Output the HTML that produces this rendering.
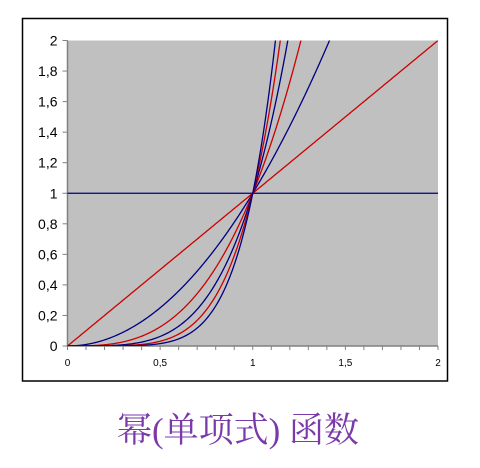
<!DOCTYPE html>
<html><head><meta charset="utf-8"><style>
html,body{margin:0;padding:0;background:#fff;width:480px;height:468px;overflow:hidden}
svg{display:block}
</style></head><body>
<svg id="chart" width="480" height="468">
<rect x="22.5" y="18.5" width="425" height="362.5" fill="#fff" stroke="#000" stroke-width="1.5"/>
<text x="238" y="442" text-anchor="middle" font-family="'Liberation Serif','Noto Serif CJK SC',serif" font-size="35" fill="#7a3aaa">幂(单项式) 函数</text>
</svg>
<script>
const exponents=[0,1,2,3,4,5,6];
const seriesColors=["#000080","#cc0000","#000080","#cc0000","#000080","#cc0000","#000080"];
const xTicks=[0,0.5,1,1.5,2];
const xTickLabels=["0","0,5","1","1,5","2"];
const yTicks=[0,0.2,0.4,0.6,0.8,1,1.2,1.4,1.6,1.8,2];
const yTickLabels=["0","0,2","0,4","0,6","0,8","1","1,2","1,4","1,6","1,8","2"];
const X0=67.5,X1=438,Y0=346,Y1=40.5;
const sx=v=>X0+(v-0)/2*(X1-X0);
const sy=v=>Y0-(v-0)/2*(Y0-Y1);
const svg=document.getElementById('chart');
const NS='http://www.w3.org/2000/svg';
function mk(t,a){const e=document.createElementNS(NS,t);for(const k in a)e.setAttribute(k,a[k]);svg.appendChild(e);return e;}
const clip=mk('clipPath',{id:'pc'});
const cr=document.createElementNS(NS,'rect');cr.setAttribute('x',X0);cr.setAttribute('y',Y1);cr.setAttribute('width',X1-X0);cr.setAttribute('height',Y0-Y1);clip.appendChild(cr);
const plot=mk('rect',{x:X0,y:Y1,width:X1-X0,height:Y0-Y1,fill:'#c0c0c0'});


const ax=mk('path',{d:`M${X0},${Y1}V${Y0}H${X1}`,stroke:'#808080','stroke-width':1.5,fill:'none'});


for(let i=0;i<=20;i++){const x=sx(i*0.1);const t=mk('line',{x1:x,x2:x,y1:Y0,y2:Y0+4,stroke:'#808080'});

}
xTicks.forEach((v,i)=>{const t=mk('text',{x:sx(v),y:Y0+20,'text-anchor':'middle','font-family':'Liberation Sans,sans-serif','font-size':10,fill:'#000'});t.textContent=xTickLabels[i];

});
yTicks.forEach((v,i)=>{const y=sy(v);const l=mk('line',{x1:X0-5,x2:X0,y1:y,y2:y,stroke:'#808080'});


const t=mk('text',{x:X0-10,y:y+5,'text-anchor':'end','font-family':'Liberation Sans,sans-serif','font-size':14,fill:'#000'});t.textContent=yTickLabels[i];

});
exponents.forEach((n,i)=>{let d='';for(let k=0;k<=400;k++){const x=k*2/400;let y=Math.pow(x,n);if(y>3)y=3;d+=(k?'L':'M')+sx(x).toFixed(2)+','+sy(y).toFixed(2);}
const p=mk('path',{d:d,stroke:seriesColors[i],'stroke-width':1.3,fill:'none','clip-path':'url(#pc)'});

});
</script>
</body></html>
